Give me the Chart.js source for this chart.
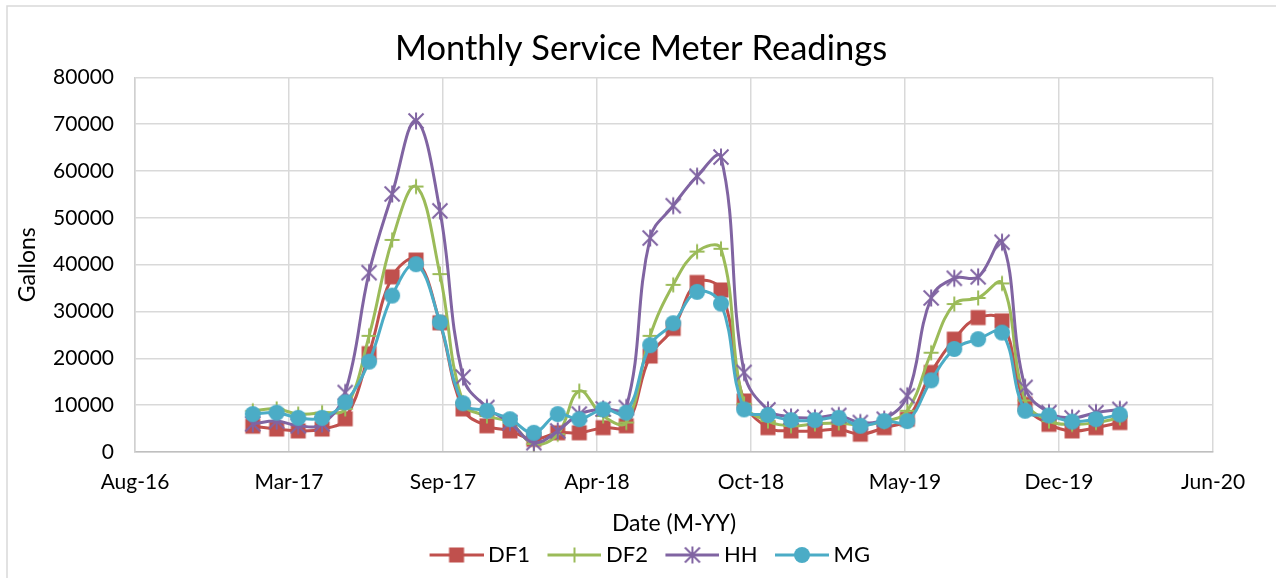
<!DOCTYPE html>
<html>
<head>
<meta charset="utf-8">
<title>Monthly Service Meter Readings</title>
<script src="https://cdn.jsdelivr.net/npm/chart.js@4.4.1/dist/chart.umd.min.js"></script>
<style>
  html, body { margin: 0; padding: 0; background: #fff; }
  #wrap { width: 1276px; height: 578px; }
</style>
</head>
<body>
<div id="wrap"><canvas id="meterChart" width="1276" height="578"></canvas></div>
<script>
// reading dates (one per month, Jan-17 .. Feb-20)
const readDates = [
    '2017-01-18', '2017-02-18', '2017-03-18', '2017-04-18', '2017-05-18', '2017-06-18',
    '2017-07-18', '2017-08-18', '2017-09-18', '2017-10-18', '2017-11-18', '2017-12-18',
    '2018-01-18', '2018-02-18', '2018-03-18', '2018-04-18', '2018-05-18', '2018-06-18',
    '2018-07-18', '2018-08-18', '2018-09-18', '2018-10-18', '2018-11-18', '2018-12-18',
    '2019-01-18', '2019-02-18', '2019-03-18', '2019-04-18', '2019-05-18', '2019-06-18',
    '2019-07-18', '2019-08-18', '2019-09-18', '2019-10-18', '2019-11-18', '2019-12-18',
    '2020-01-18', '2020-02-18'
];

const df1 = [5500, 4900, 4500, 4900, 7100, 21000, 37400, 41000, 27600, 9200, 5600, 4500,
    2700, 4100, 4100, 5200, 5600, 20500, 26400, 36200, 34600, 10900, 5200, 4500,
    4500, 4850, 3800, 5200, 7000, 17000, 24100, 28700, 28000, 10200, 5900, 4500, 5200, 6300];
const df2 = [8800, 9200, 8100, 8400, 9200, 24800, 45300, 56700, 38000, 10500, 7700, 6300,
    1700, 3800, 13000, 7700, 6300, 24800, 35700, 42800, 43400, 10300, 6600, 5600,
    6000, 6200, 5800, 6500, 8800, 21200, 31600, 32900, 36000, 11000, 6600, 5900, 6300, 7300];
const hh = [6000, 6600, 5600, 6000, 12700, 38300, 55100, 70700, 51500, 16000, 9500, 6300,
    2000, 4500, 8100, 9200, 9500, 45700, 52600, 58900, 63000, 17000, 9000, 7500,
    7300, 7800, 6300, 7000, 12000, 32900, 37100, 37400, 44800, 13800, 8400, 7300, 8400, 9100];
const mg = [8100, 8400, 7300, 7300, 10600, 19300, 33400, 40100, 27700, 10400, 8800, 7000,
    4100, 8100, 7000, 9100, 8400, 22800, 27500, 34200, 31700, 9100, 7900, 6800,
    6800, 7300, 5600, 6600, 6600, 15300, 22000, 24100, 25500, 8800, 7800, 6500, 7000, 8000];

const xTickLabels = ['Aug-16', 'Mar-17', 'Sep-17', 'Apr-18', 'Oct-18', 'May-19', 'Dec-19', 'Jun-20'];
const xAxisStart = '2016-08-18';
const xStepDays = 200;

const FONT = 'Lato, "Open Sans", sans-serif';

function toDay(s) {
    const p = s.split('-').map(Number);
    return Date.UTC(p[0], p[1] - 1, p[2]) / 86400000;
}

const xMin = toDay(xAxisStart);
const xMax = xMin + xStepDays * (xTickLabels.length - 1);

function drawMarker(c, style, x, y, color) {
    c.fillStyle = color;
    c.strokeStyle = color;
    c.lineWidth = 2;
    c.lineCap = 'butt';
    c.beginPath();
    if (style === 'square') {
        c.fillRect(x - 7.5, y - 7.5, 15, 15);
    } else if (style === 'plus') {
        c.moveTo(x - 7.5, y); c.lineTo(x + 7.5, y);
        c.moveTo(x, y - 7.5); c.lineTo(x, y + 7.5);
        c.stroke();
    } else if (style === 'star') {
        c.moveTo(x - 7.5, y - 7.5); c.lineTo(x + 7.5, y + 7.5);
        c.moveTo(x + 7.5, y - 7.5); c.lineTo(x - 7.5, y + 7.5);
        c.moveTo(x, y - 8.5); c.lineTo(x, y + 8.5);
        c.stroke();
    } else {
        c.arc(x, y, 8, 0, Math.PI * 2);
        c.fill();
    }
}

function markerImage(style, color) {
    const cv = document.createElement('canvas');
    cv.width = 20; cv.height = 20;
    drawMarker(cv.getContext('2d'), style, 10, 10, color);
    return cv;
}

// legend icon: line with marker; wider than the legend box so the text sits close
function legendImage(style, color) {
    const cv = document.createElement('canvas');
    cv.width = 78; cv.height = 20;
    const c = cv.getContext('2d');
    c.strokeStyle = color;
    c.lineWidth = 3;
    c.beginPath();
    c.moveTo(24, 10); c.lineTo(78, 10);
    c.stroke();
    drawMarker(c, style, 51, 10, color);
    return cv;
}

const seriesDefs = [
    { label: 'DF1', values: df1, color: '#C0504D', marker: 'square', order: 3 },
    { label: 'DF2', values: df2, color: '#9BBB59', marker: 'plus', order: 2 },
    { label: 'HH', values: hh, color: '#8064A2', marker: 'star', order: 1 },
    { label: 'MG', values: mg, color: '#4BACC6', marker: 'circle', order: 0 }
];

const legendIcons = seriesDefs.map(s => legendImage(s.marker, s.color));

const datasets = seriesDefs.map(s => ({
    label: s.label,
    data: s.values.map((v, i) => ({ x: toDay(readDates[i]), y: v })),
    borderColor: s.color,
    backgroundColor: s.color,
    borderWidth: 3,
    pointStyle: markerImage(s.marker, s.color),
    pointRadius: 8,
    tension: 0.4,
    fill: false,
    order: s.order
}));

// thin frame around the whole chart, like the spreadsheet chart area
const frame = {
    id: 'frame',
    beforeDraw(chart) {
        const c = chart.ctx;
        c.save();
        c.fillStyle = '#fff';
        c.fillRect(0, 0, chart.width, chart.height);
        c.strokeStyle = '#D9D9D9';
        c.lineWidth = 1.5;
        c.strokeRect(7, 6, chart.width + 10, chart.height + 10);
        c.restore();
    }
};

new Chart(document.getElementById('meterChart').getContext('2d'), {
    type: 'line',
    data: { datasets: datasets },
    plugins: [frame],
    options: {
        responsive: false,
        animation: false,
        events: [],
        layout: { padding: { left: 6, right: 0, top: 0, bottom: 2 } },
        plugins: {
            title: {
                display: true,
                text: 'Monthly Service Meter Readings',
                color: '#000',
                font: { family: FONT, size: 34.5, weight: 'normal' },
                padding: { top: 28, bottom: 8 }
            },
            legend: {
                position: 'bottom',
                labels: {
                    color: '#000',
                    font: { family: FONT, size: 22 },
                    usePointStyle: true,
                    pointStyleWidth: 65,
                    padding: 0,
                    sort: (a, b) => a.datasetIndex - b.datasetIndex,
                    generateLabels: chart => Chart.defaults.plugins.legend.labels.generateLabels(chart)
                        .map(l => Object.assign(l, { pointStyle: legendIcons[l.datasetIndex] }))
                }
            },
            tooltip: { enabled: false }
        },
        scales: {
            x: {
                type: 'linear',
                min: xMin,
                max: xMax,
                afterBuildTicks: scale => {
                    scale.ticks = xTickLabels.map((_, i) => ({ value: xMin + i * xStepDays }));
                },
                afterFit: scale => { scale.height = 92; },
                ticks: {
                    color: '#000',
                    font: { family: FONT, size: 21 },
                    padding: 18,
                    maxRotation: 0,
                    autoSkip: false,
                    callback: (v, i) => xTickLabels[i]
                },
                grid: { color: '#D9D9D9', lineWidth: 1.5, drawTicks: false },
                border: { color: '#BFBFBF', width: 1.5 },
                title: {
                    display: true,
                    text: 'Date (M-YY)',
                    color: '#000',
                    font: { family: FONT, size: 23 },
                    padding: { top: 0, bottom: 7 }
                }
            },
            y: {
                min: 0,
                max: 80000,
                afterFit: scale => { scale.width = 129; },
                ticks: {
                    stepSize: 10000,
                    color: '#000',
                    font: { family: FONT, size: 21 },
                    padding: 21,
                    callback: v => String(v)
                },
                grid: { color: '#D9D9D9', lineWidth: 1.5, drawTicks: false },
                border: { color: '#D0D0D0', width: 1.5 },
                title: {
                    display: true,
                    text: 'Gallons',
                    color: '#000',
                    font: { family: FONT, size: 23 },
                    padding: { top: 8, bottom: 0 }
                }
            },
            // empty right-hand spacer so the plot ends where the original does
            spacer: {
                position: 'right',
                afterFit: scale => { scale.width = 63; },
                ticks: { display: false },
                grid: { display: false, drawOnChartArea: false },
                border: { display: false }
            }
        }
    }
});
</script>
</body>
</html>
